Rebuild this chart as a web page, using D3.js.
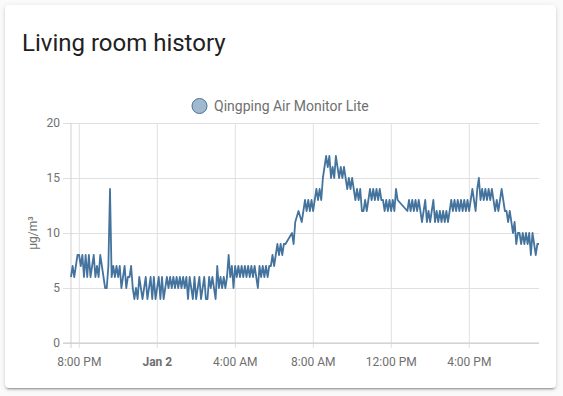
<!DOCTYPE html>
<html>
<head>
<meta charset="utf-8">
<script src="https://cdn.jsdelivr.net/npm/d3@7"></script>
<style>
  body { margin: 0; background: #fafafa; font-family: Roboto, sans-serif; }
  .card {
    position: absolute; left: 5px; top: 5px; width: 551px; height: 383px;
    background: #fff; border-radius: 4px;
    box-shadow: 0 2px 2px rgba(0,0,0,0.14), 0 1px 5px rgba(0,0,0,0.12), 0 3px 1px -2px rgba(0,0,0,0.2);
  }
  #chart { position: absolute; left: 0; top: 0; }
</style>
</head>
<body>
<div class="card"></div>
<div id="chart"></div>
<script>
// Chart data
var cardTitle = "Living room history";
var seriesName = "Qingping Air Monitor Lite";
var unitLabel = "µg/m³";
var startTime = new Date(2024, 0, 1, 19, 36);
var stepMinutes = 5;
// PM2.5 readings every 5 minutes (null = no reading, line bridges the gap)
var pm25 = [
  6,7,6,7,8,8,7,8,6,8,6,8,
  6,7,8,6,7,6,8,7,6,5,5,7,
  14,6,7,6,7,6,7,5,6,7,5,6,
  6,7,5,4,5,4,6,5,4,5,6,4,
  5,6,4,6,4,5,6,4,6,4,5,6,
  5,6,5,6,5,6,5,6,5,6,5,6,
  4,6,5,4,6,4,5,6,4,5,6,4,
  4,6,5,6,5,4,7,5,6,5,6,5,
  6,8,6,7,5,7,6,7,6,7,6,7,
  6,7,6,7,6,7,6,5,7,6,7,6,
  7,6,7,7,8,7,8,9,8,9,8,9,
  9,null,null,null,10,9,11,null,12,null,11,12,
  13,12,13,12,13,12,13,14,13,14,13,15,
  16,17,16,17,15,16,15,17,16,15,16,15,
  16,15,14,15,14,15,14,13,14,13,14,12,
  12,13,12,13,14,13,14,13,14,13,14,13,
  13,12,13,12,13,12,13,12,14,13,null,null,
  null,null,null,12,13,12,13,12,13,12,13,12,
  11,12,13,11,12,11,12,13,11,12,11,12,
  11,12,11,12,11,12,13,12,13,12,13,12,
  13,12,13,12,13,12,13,14,13,12,14,15,
  13,14,13,14,13,14,13,14,13,12,13,12,
  13,14,13,12,12,11,12,11,10,11,9,10,
  10,9,10,9,10,9,10,8,10,9,8,9,
  9
];
var yTicks = [0, 5, 10, 15, 20];
var xTicks = [
  new Date(2024, 0, 1, 20, 0),
  new Date(2024, 0, 2, 0, 0),
  new Date(2024, 0, 2, 4, 0),
  new Date(2024, 0, 2, 8, 0),
  new Date(2024, 0, 2, 12, 0),
  new Date(2024, 0, 2, 16, 0)
];

var svgWidth = 563;
var svgHeight = 396;
var margin = { top: 123, right: 24, bottom: 53, left: 71 };
var width = svgWidth - margin.left - margin.right;
var height = svgHeight - margin.top - margin.bottom;

var svg = d3.select("#chart")
    .append("svg")
    .attr("width", svgWidth)
    .attr("height", svgHeight);

// Title and legend
svg.append("text")
    .attr("x", 22)
    .attr("y", 51)
    .attr("font-size", "24px")
    .attr("fill", "#212121")
    .text(cardTitle);

svg.append("circle")
    .attr("cx", 199.5)
    .attr("cy", 106)
    .attr("r", 7.5)
    .attr("fill", "rgba(68,115,158,0.5)")
    .attr("stroke", "#44739e")
    .attr("stroke-width", 1);

svg.append("text")
    .attr("x", 214)
    .attr("y", 111)
    .attr("font-size", "14px")
    .attr("fill", "#6f6f6f")
    .text(seriesName);

var chartGroup = svg.append("g")
    .attr("transform", `translate(${margin.left}, ${margin.top})`);

// Parse data
var data = pm25.map(function (v, i) {
    return { time: new Date(+startTime + i * stepMinutes * 60000), value: v };
}).filter(d => d.value !== null);

// Scales
var xTimeScale = d3.scaleTime()
    .domain([startTime, new Date(+startTime + 24 * 3600000)])
    .range([0, width]);

var yLinearScale = d3.scaleLinear()
    .domain([0, 20])
    .range([height, 0]);

// Axes (ticks double as grid lines)
var leftAxis = d3.axisLeft(yLinearScale)
    .tickValues(yTicks)
    .tickSize(-(width + 8))
    .tickPadding(3);

var bottomAxis = d3.axisBottom(xTimeScale)
    .tickValues(xTicks)
    .tickSize(-(height + 5))
    .tickPadding(9)
    .tickFormat(function (d) {
        return d.getHours() === 0 ? d3.timeFormat("%b %-d")(d) : d3.timeFormat("%-I:%M %p")(d);
    });

var yAxisGroup = chartGroup.append("g")
    .attr("transform", "translate(-8, 0)")
    .call(leftAxis);

var xAxisGroup = chartGroup.append("g")
    .attr("transform", `translate(0, ${height + 5})`)
    .call(bottomAxis);

[yAxisGroup, xAxisGroup].forEach(function (g) {
    g.select(".domain").remove();
    g.selectAll("line").attr("stroke", "#e0e0e0");
    g.selectAll("text")
        .attr("font-family", "Roboto, sans-serif")
        .attr("font-size", "12px")
        .attr("fill", "#6f6f6f");
});

xAxisGroup.selectAll("text")
    .style("font-weight", d => d.getHours() === 0 ? "bold" : "normal");

// Axis border lines
chartGroup.append("line")
    .attr("x1", 0).attr("x2", 0)
    .attr("y1", 0).attr("y2", height + 5)
    .attr("stroke", "#d0d0d0");

chartGroup.append("line")
    .attr("x1", -8).attr("x2", width)
    .attr("y1", height).attr("y2", height)
    .attr("stroke", "#c8c8c8");

// Unit label
chartGroup.append("text")
    .attr("transform", "rotate(-90)")
    .attr("x", 0 - (height / 2 - 0))
    .attr("y", -34)
    .attr("text-anchor", "middle")
    .attr("font-size", "12px")
    .attr("fill", "#6f6f6f")
    .text(unitLabel);

// History line
var line = d3.line()
    .x(d => xTimeScale(d.time))
    .y(d => yLinearScale(d.value));

chartGroup.append("path")
    .datum(data)
    .attr("fill", "none")
    .attr("stroke", "#44739e")
    .attr("stroke-width", 1.8)
    .attr("stroke-linejoin", "round")
    .attr("d", line);
</script>
</body>
</html>
